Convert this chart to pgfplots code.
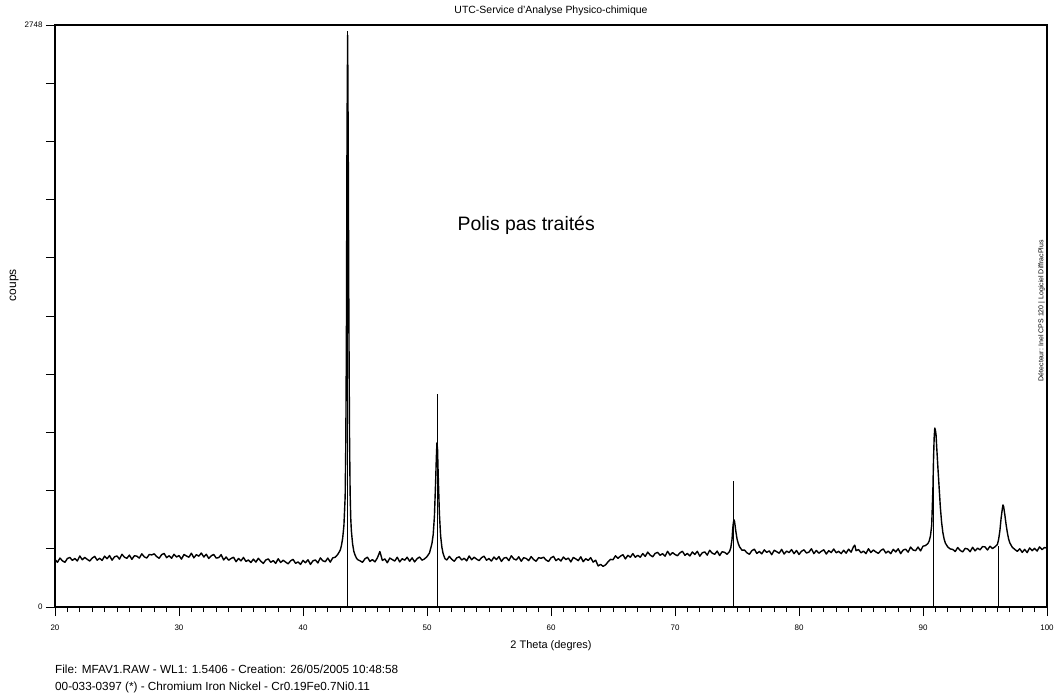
\documentclass[border=0pt]{standalone}
\usepackage{pgfplots}
\pgfplotsset{compat=1.18}
\usepackage{fontspec}
\setmainfont{Liberation Sans}
\begin{document}
\begin{tikzpicture}
\path[use as bounding box] (0,0) rectangle (1054bp,693bp);
\begin{axis}[
  scale only axis, width=992bp, height=582bp,
  at={(55bp,86bp)}, anchor=south west,
  xmin=20, xmax=100, ymin=0, ymax=2748,
  axis line style={line width=1.1bp, black},
  tick align=outside, tick style={black, line width=0.9bp},
  major tick length=9bp, minor tick length=5bp,
  xtick={20,30,...,100}, minor x tick num=9,
  ytick={0,274.8,549.6,824.4,1099.2,1374,1648.8,1923.6,2198.4,2473.2,2748},
  yticklabels={0,{},{},{},{},{},{},{},{},{},2748},
  minor y tick num=0,
  xtick pos=bottom, ytick pos=left,
  /pgf/number format/assume math mode=true,
  ticklabel style={font=\fontsize{8}{9}\selectfont},
  xticklabel style={yshift=-5bp},
  xlabel={2 Theta (degres)},
  xlabel style={font=\fontsize{11}{13}\selectfont, at={(axis description cs:0.5,-0.067)}, anchor=center},
  ylabel={coups},
  ylabel style={font=\fontsize{12}{14}\selectfont, at={(axis description cs:-0.0413,0.553)}, anchor=center},
  title={UTC-Service d'Analyse Physico-chimique},
  title style={font=\fontsize{10.5}{12}\selectfont, at={(axis description cs:0.5,1.0137)}, anchor=center},
  clip=false,
]
\addplot[black, line width=1.4bp, line join=round, no marks] coordinates {
(20.0,224)(20.2,211)(20.4,231)(20.6,218)(20.8,211)(21.0,229)(21.2,234)(21.4,220)(21.6,229)(21.8,217)
(22.0,241)(22.2,223)(22.4,234)(22.6,225)(22.8,217)(23.0,231)(23.2,239)(23.4,221)(23.6,230)(23.8,220)
(24.0,240)(24.2,228)(24.4,243)(24.6,221)(24.8,237)(25.0,241)(25.2,226)(25.4,249)(25.6,235)(25.8,230)
(26.0,245)(26.2,225)(26.4,242)(26.6,240)(26.8,231)(27.0,251)(27.2,237)(27.4,231)(27.6,248)(27.8,246)
(28.0,251)(28.2,238)(28.4,230)(28.6,247)(28.8,253)(29.0,233)(29.2,242)(29.4,230)(29.6,249)(29.8,236)
(30.0,243)(30.2,226)(30.4,248)(30.6,241)(30.8,235)(31.0,254)(31.2,232)(31.4,247)(31.6,240)(31.8,255)
(32.0,236)(32.2,249)(32.4,229)(32.6,242)(32.8,248)(33.0,231)(33.2,233)(33.4,247)(33.6,222)(33.8,236)
(34.0,221)(34.2,229)(34.4,235)(34.6,214)(34.8,229)(35.0,218)(35.2,234)(35.4,215)(35.6,222)(35.8,210)
(36.0,226)(36.2,212)(36.4,230)(36.6,216)(36.8,206)(37.0,222)(37.2,227)(37.4,211)(37.6,219)(37.8,206)
(38.0,228)(38.2,210)(38.4,221)(38.6,212)(38.8,204)(39.0,218)(39.2,225)(39.4,206)(39.6,213)(39.8,201)
(40.0,220)(40.2,209)(40.4,223)(40.6,201)(40.8,218)(41.0,222)(41.2,208)(41.4,232)(41.6,218)(41.8,214)
(42.0,231)(42.2,212)(42.4,232)(42.6,235)(42.8,248)(43.0,268)(43.1,290)(43.2,325)(43.3,385)(43.4,520)
(43.45,760)(43.5,1250)(43.55,2250)(43.6,2700)(43.65,2150)(43.7,1350)(43.75,820)(43.8,540)(43.85,420)
(43.9,360)(44.0,298)(44.1,262)(44.2,245)(44.3,232)(44.4,224)
(44.6,218)(44.8,211)(45.0,228)(45.2,235)(45.4,215)(45.6,224)(45.8,213)(46.0,232)(46.2,262)(46.4,220)
(46.6,227)(46.8,209)(47.0,231)(47.2,224)(47.4,217)(47.6,235)(47.8,213)(48.0,228)(48.2,221)(48.4,235)
(48.6,216)(48.8,232)(49.0,213)(49.2,228)(49.4,236)(49.6,221)(49.8,227)(50.0,238)(50.2,255)(50.4,300)
(50.5,342)(50.6,430)(50.7,600)(50.75,700)(50.8,775)(50.85,745)(50.9,630)(51.0,440)(51.1,335)(51.2,282)
(51.3,252)(51.45,228)(51.6,222)(51.8,239)
(52.0,225)(52.2,216)(52.4,232)(52.6,237)(52.8,222)(53.0,230)(53.2,218)(53.4,241)(53.6,223)(53.8,235)
(54.0,226)(54.2,219)(54.4,233)(54.6,240)(54.8,221)(55.0,229)(55.2,217)(55.4,236)(55.6,224)(55.8,238)
(56.0,215)(56.2,231)(56.4,234)(56.6,219)(56.8,242)(57.0,227)(57.2,222)(57.4,237)(57.6,216)(57.8,233)
(58.0,229)(58.2,219)(58.4,238)(58.6,224)(58.8,216)(59.0,233)(59.2,230)(59.4,235)(59.6,222)(59.8,215)
(60.0,232)(60.2,239)(60.4,219)(60.6,228)(60.8,217)(61.0,236)(61.2,224)(61.4,231)(61.6,213)(61.8,234)
(62.0,227)(62.2,219)(62.4,237)(62.6,214)(62.8,228)(63.0,220)(63.2,233)(63.4,212)(63.6,221)(63.8,194)
(64.0,201)(64.2,192)(64.4,199)(64.6,213)(64.8,225)(65.0,223)(65.2,242)(65.4,230)(65.6,240)(65.8,247)
(66.0,227)(66.2,244)(66.4,235)(66.6,252)(66.8,235)(67.0,244)(67.2,235)(67.4,252)(67.6,239)(67.8,259)
(68.0,245)(68.2,237)(68.4,253)(68.6,258)(68.8,244)(69.0,252)(69.2,240)(69.4,263)(69.6,245)(69.8,257)
(70.0,248)(70.2,242)(70.4,256)(70.6,263)(70.8,244)(71.0,253)(71.2,241)(71.4,260)(71.6,248)(71.8,263)
(72.0,240)(72.2,256)(72.4,260)(72.6,245)(72.8,268)(73.0,254)(73.2,249)(73.4,264)(73.6,243)(73.8,261)
(74.0,258)(74.2,249)(74.4,262)(74.5,280)(74.6,320)(74.65,365)(74.7,395)(74.75,412)(74.8,405)(74.9,360)
(75.0,322)(75.1,300)(75.2,285)(75.4,268)(75.6,269)(75.8,256)
(76.0,249)(76.2,266)(76.4,273)(76.6,253)(76.8,262)(77.0,251)(77.2,270)(77.4,258)(77.6,265)(77.8,247)
(78.0,268)(78.2,261)(78.4,254)(78.6,272)(78.8,250)(79.0,264)(79.2,257)(79.4,271)(79.6,252)(79.8,267)
(80.0,248)(80.2,263)(80.4,270)(80.6,255)(80.8,259)(81.0,275)(81.2,252)(81.4,267)(81.6,254)(81.8,263)
(82.0,270)(82.2,250)(82.4,266)(82.6,257)(82.8,274)(83.0,256)(83.2,263)(83.4,252)(83.6,268)(83.8,254)
(84.0,273)(84.2,259)(84.4,285)(84.5,292)(84.6,266)(84.8,271)(85.0,256)(85.2,264)(85.4,252)(85.6,275)
(85.8,257)(86.0,269)(86.2,260)(86.4,253)(86.6,267)(86.8,274)(87.0,255)(87.2,264)(87.4,252)(87.6,272)
(87.8,260)(88.0,275)(88.2,252)(88.4,269)(88.6,273)(88.8,259)(89.0,283)(89.2,269)(89.4,266)(89.6,283)
(89.8,265)(90.0,287)(90.2,290)(90.4,300)(90.5,312)(90.6,335)(90.7,385)(90.8,560)(90.85,700)(90.9,800)
(90.95,845)(91.0,835)(91.05,815)(91.1,760)(91.2,660)(91.3,565)(91.4,470)(91.5,400)(91.6,352)(91.7,322)
(91.8,302)(92.0,283)(92.2,274)(92.4,272)(92.6,262)(92.8,281)(93.0,267)(93.2,260)(93.4,277)(93.6,274)
(93.8,261)(94.0,282)(94.2,265)(94.4,278)(94.6,270)(94.8,285)(95.0,284)(95.2,269)(95.4,287)(95.6,276)
(95.8,284)(95.9,290)(96.0,295)(96.1,320)(96.2,360)(96.3,420)(96.4,465)(96.45,482)(96.5,475)(96.6,435)
(96.7,390)(96.8,352)(96.9,322)(97.0,303)(97.2,282)(97.4,272)(97.6,263)(97.8,275)(98.0,258)(98.2,272)
(98.4,257)(98.6,279)(98.8,266)(99.0,277)(99.2,264)(99.4,284)(99.6,271)(99.8,281)(100.0,278)
};
\addplot[ycomb, black, line width=1.1bp, no marks] coordinates {
(43.6,2720)(50.85,1005)(74.72,595)(90.88,685)(96.1,290)
};
\node[font=\fontsize{19.5}{22}\selectfont, anchor=center] at (axis cs:58.0,1803) {Polis pas traités};
\node[font=\fontsize{7}{8}\selectfont, rotate=90, anchor=south, inner sep=1bp] at (axis description cs:0.999,0.509) {Détecteur: Inel CPS 120 | Logiciel DiffracPlus};
\end{axis}
\node[font=\fontsize{11.8}{14}\selectfont, anchor=base west, inner sep=0pt] at (55bp,20bp) {File: MFAV1.RAW - WL1: 1.5406 - Creation: 26/05/2005 10:48:58};
\node[font=\fontsize{11.8}{14}\selectfont, anchor=base west, inner sep=0pt] at (55bp,2.5bp) {00-033-0397 (*) - Chromium Iron Nickel - Cr0.19Fe0.7Ni0.11};
\end{tikzpicture}
\end{document}
